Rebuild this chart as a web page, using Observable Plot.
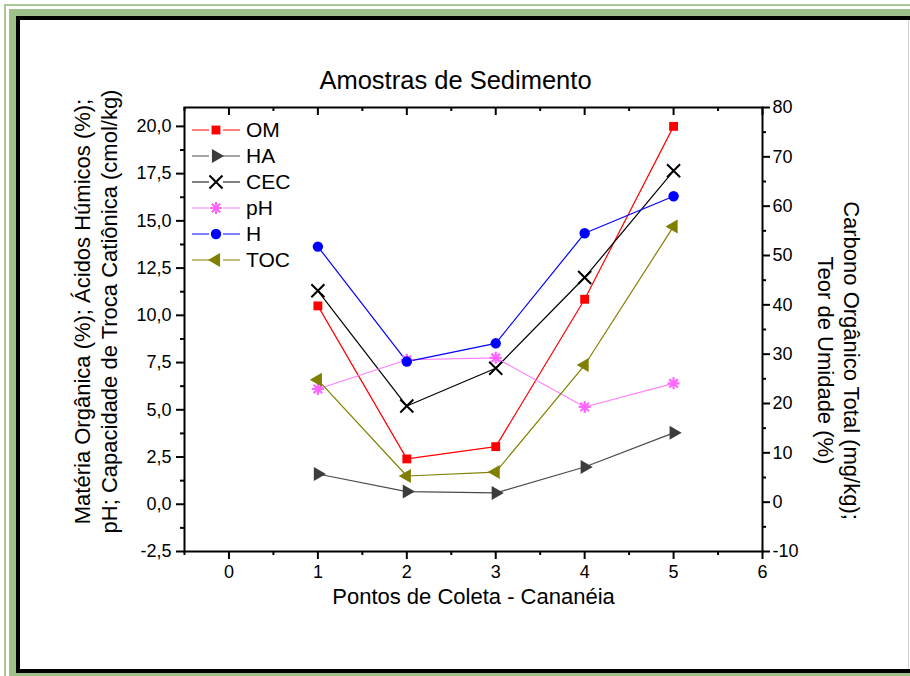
<!DOCTYPE html>
<html>
<head>
<meta charset="utf-8">
<script src="https://cdn.jsdelivr.net/npm/d3@7"></script>
<script src="https://cdn.jsdelivr.net/npm/@observablehq/plot@0.6"></script>
<style>
  html, body { margin: 0; padding: 0; background: #fff; }
  #page { position: relative; width: 910px; height: 676px; overflow: hidden; background: #fff; }
  #chart { position: absolute; left: 0; top: 0; }
  .edge { position: absolute; }
</style>
</head>
<body>
<div id="page">
  <div id="chart"></div>
  <!-- page border: thin light-green rule, green band, black band -->
  <div class="edge" style="left:4px;top:4px;width:2px;height:672px;background:#a9c896"></div>
  <div class="edge" style="left:4px;top:4px;width:906px;height:2px;background:#a9c896"></div>
  <div class="edge" style="left:9px;top:9px;width:7px;height:667px;background:#9ebf89"></div>
  <div class="edge" style="left:9px;top:9px;width:901px;height:7px;background:#9ebf89"></div>
  <div class="edge" style="left:9px;top:673px;width:901px;height:3px;background:#9ebf89"></div>
  <div class="edge" style="left:16px;top:16px;width:4px;height:657px;background:#000"></div>
  <div class="edge" style="left:16px;top:16px;width:894px;height:4px;background:#000"></div>
  <div class="edge" style="left:16px;top:669px;width:894px;height:4px;background:#000"></div>
  <div class="edge" style="left:908px;top:20px;width:1px;height:649px;background:#d4d4d4"></div>
</div>
<script>
// Sampling points along the Cananéia estuary
const points = [1, 2, 3, 4, 5];

// Left-axis series
const omValues  = [10.5, 2.4, 3.05, 10.85, 20.0];   // Matéria orgânica (%)
const haValues  = [1.6, 0.67, 0.6, 1.97, 3.78];     // Ácidos húmicos (%)
const cecValues = [11.3, 5.2, 7.2, 12.0, 17.65];    // CTC (cmol/kg)
const phValues  = [6.1, 7.65, 7.75, 5.15, 6.4];     // pH

// Right-axis series
const hValues   = [51.8, 28.5, 32.2, 54.5, 62.0];   // Teor de umidade (%)
const tocValues = [24.8, 5.3, 6.1, 27.8, 55.9];     // Carbono orgânico total (mg/kg)

// Axis domains and ticks
const xDomain = [-0.5, 6];
const xMajor = [0, 1, 2, 3, 4, 5, 6];
const xMinor = [-0.5, 0.5, 1.5, 2.5, 3.5, 4.5, 5.5];
const leftDomain = [-2.5, 21];
const leftMajor = [-2.5, 0, 2.5, 5, 7.5, 10, 12.5, 15, 17.5, 20];
const leftMinor = [-1.25, 1.25, 3.75, 6.25, 8.75, 11.25, 13.75, 16.25, 18.75];
const rightDomain = [-10, 80];
const rightMajor = [-10, 0, 10, 20, 30, 40, 50, 60, 70, 80];
const rightMinor = [-5, 5, 15, 25, 35, 45, 55, 65, 75];

// Map a right-axis value onto the left-axis scale (the two axes share the frame)
const k = (leftDomain[1] - leftDomain[0]) / (rightDomain[1] - rightDomain[0]);
const toLeft = r => leftDomain[0] + (r - rightDomain[0]) * k;
const fromLeft = v => rightDomain[0] + (v - leftDomain[0]) / k;

// Eight-armed star marker
const star8 = {
  draw(context, size) {
    const r = Math.sqrt(size / Math.PI);
    for (let a = 0; a < 4; ++a) {
      const t = a * Math.PI / 4, c = Math.cos(t) * r, s = Math.sin(t) * r;
      context.moveTo(-c, -s);
      context.lineTo(c, s);
    }
  }
};

const series = [
  {name: "OM",  values: omValues,  axis: "left",  line: "#ff0000", color: "#ff0000", symbol: d3.symbolSquare,   r: 5,   fill: true},
  {name: "HA",  values: haValues,  axis: "left",  line: "#4a4a4a", color: "#3c3c3c", symbol: d3.symbolTriangle, r: 5.2, fill: true, rotate: 90},
  {name: "CEC", values: cecValues, axis: "left",  line: "#000000", color: "#000000", symbol: d3.symbolX,        r: 6,   fill: false, sw: 2},
  {name: "pH",  values: phValues,  axis: "left",  line: "#ff80ff", color: "#ff66ff", symbol: star8,            r: 6,   fill: false, sw: 2.2},
  {name: "H",   values: hValues,   axis: "right", line: "#0000ff", color: "#0000ff", symbol: d3.symbolCircle,   r: 5.2, fill: true},
  {name: "TOC", values: tocValues, axis: "right", line: "#808000", color: "#808000", symbol: d3.symbolTriangle, r: 5.2, fill: true, rotate: -90}
];

const rowsOf = s => points.map((p, i) => ({
  point: p,
  value: s.axis === "right" ? toLeft(s.values[i]) : s.values[i]
}));

const width = 910, height = 676;
const margin = {top: 107, right: 148, bottom: 125, left: 184};
const plotH = height - margin.top - margin.bottom;
const plotW = width - margin.left - margin.right;

const font = "'Liberation Sans', Arial, Helvetica, sans-serif";
const commaFmt = v => v.toFixed(1).replace(".", ",");

const marks = [];

// Series lines then markers
for (const s of series) {
  marks.push(Plot.line(rowsOf(s), {x: "point", y: "value", stroke: s.line, strokeWidth: 1.2}));
}
for (const s of series) {
  marks.push(Plot.dot(rowsOf(s), {
    x: "point", y: "value", symbol: s.symbol, r: s.r,
    fill: s.fill ? s.color : "none",
    stroke: s.fill ? "none" : s.color,
    strokeWidth: s.sw ?? 1,
    rotate: s.rotate ?? 0
  }));
}

// Ticks: bottom outward, top inward, left and right outward
marks.push(
  Plot.ruleX(xMajor, {x: d => d, insetTop: plotH, insetBottom: -8, strokeWidth: 2}),
  Plot.ruleX(xMinor, {x: d => d, insetTop: plotH, insetBottom: -4, strokeWidth: 2}),
  Plot.ruleX(xMajor, {x: d => d, insetBottom: plotH - 8, strokeWidth: 2}),
  Plot.ruleX(xMinor, {x: d => d, insetBottom: plotH - 4, strokeWidth: 2}),
  Plot.ruleY(leftMajor, {y: d => d, insetLeft: -8, insetRight: plotW, strokeWidth: 2}),
  Plot.ruleY(leftMinor, {y: d => d, insetLeft: -4, insetRight: plotW, strokeWidth: 2}),
  Plot.ruleY(rightMajor.map(toLeft), {y: d => d, insetLeft: plotW, insetRight: -8, strokeWidth: 2}),
  Plot.ruleY(rightMinor.map(toLeft), {y: d => d, insetLeft: plotW, insetRight: -4, strokeWidth: 2}),
  Plot.frame({stroke: "#000", strokeWidth: 2})
);

// Tick labels
marks.push(
  Plot.axisX({ticks: xMajor, tickSize: 0, tickPadding: 14, tickFormat: d => String(d), label: null, fontSize: 18}),
  Plot.axisY({anchor: "left", ticks: leftMajor, tickSize: 0, tickPadding: 13, tickFormat: commaFmt, label: null, fontSize: 18}),
  Plot.axisY({anchor: "right", ticks: rightMajor.map(toLeft), tickSize: 0, tickPadding: 10,
              tickFormat: v => String(Math.round(fromLeft(v))), label: null, fontSize: 18})
);

// Titles
marks.push(
  Plot.text(["Amostras de Sedimento"], {frameAnchor: "top", dx: -18, dy: -27, fontSize: 25.5, lineAnchor: "middle"}),
  Plot.text(["Pontos de Coleta - Cananéia"], {frameAnchor: "bottom", dy: 45, fontSize: 22, lineAnchor: "middle"}),
  Plot.text(["Matéria Orgânica (%); Ácidos Húmicos (%);\npH; Capacidade de Troca Catiônica (cmol/kg)"],
            {frameAnchor: "left", textAnchor: "middle", lineAnchor: "middle", rotate: -90, dx: -90, dy: -18, fontSize: 22, lineHeight: 1.22}),
  Plot.text(["Carbono Orgânico Total (mg/kg);\nTeor de Umidade (%)"],
            {frameAnchor: "right", textAnchor: "middle", lineAnchor: "middle", rotate: 90, dx: 77, dy: 31, fontSize: 22, lineHeight: 1.22})
);

const chart = Plot.plot({
  width, height,
  marginTop: margin.top, marginRight: margin.right, marginBottom: margin.bottom, marginLeft: margin.left,
  x: {domain: xDomain},
  y: {domain: leftDomain},
  style: {fontFamily: font, fontSize: "18px", color: "#000", background: "transparent", overflow: "visible"},
  marks
});

// Legend in the upper-left corner of the frame
const legend = d3.select(chart).append("g")
  .attr("transform", `translate(${margin.left + 8},${margin.top + 23})`)
  .attr("font-family", font).attr("font-size", 21).attr("text-anchor", "start");
series.forEach((s, i) => {
  const g = legend.append("g").attr("transform", `translate(0,${i * 26})`);
  g.append("line").attr("x1", 0).attr("x2", 48).attr("y1", 0).attr("y2", 0)
    .attr("stroke", s.line).attr("stroke-width", 1.2);
  g.append("rect").attr("x", 17).attr("y", -7).attr("width", 14).attr("height", 14).attr("fill", "#fff");
  g.append("path")
    .attr("d", d3.symbol(s.symbol, s.r * s.r * Math.PI)())
    .attr("transform", `translate(24,0) rotate(${s.rotate ?? 0})`)
    .attr("fill", s.fill ? s.color : "none")
    .attr("stroke", s.fill ? "none" : s.color)
    .attr("stroke-width", s.sw ?? 1);
  g.append("text").attr("x", 54).attr("dy", "0.35em").attr("fill", "#000").text(s.name);
});

document.getElementById("chart").append(chart);
</script>
</body>
</html>
